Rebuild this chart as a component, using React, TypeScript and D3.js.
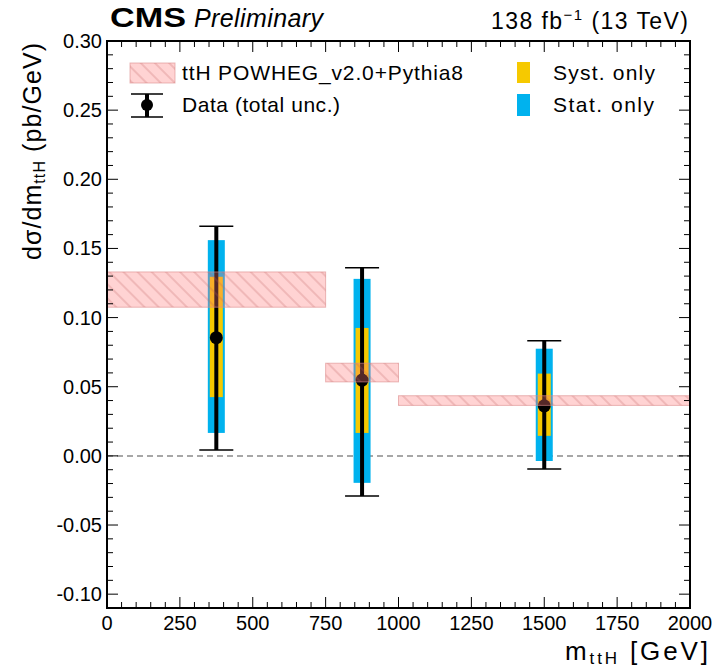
import * as d3 from 'd3';

const binEdges = [[0, 750], [750, 1000], [1000, 2000]];
const predLow = [0.1075, 0.0535, 0.0365];
const predHigh = [0.133, 0.067, 0.0435];
const centers = [375, 875, 1500];
const values = [0.0855, 0.0548, 0.0362];
const totUp = [0.166, 0.136, 0.0832];
const totDown = [0.0043, -0.029, -0.0095];
const statUp = [0.156, 0.128, 0.0775];
const statDown = [0.0166, -0.0195, -0.0037];
const systUp = [0.1295, 0.0925, 0.0595];
const systDown = [0.0425, 0.0166, 0.0145];
const yTicks = [-0.1, -0.05, 0, 0.05, 0.1, 0.15, 0.2, 0.25, 0.3];
const xTicks = [0, 250, 500, 750, 1000, 1250, 1500, 1750, 2000];

const W = 726;
const H = 669;
const L = 107;
const R = 690;
const T = 41;
const B = 608;
const FONT = '"Liberation Sans", Arial, Helvetica, sans-serif';
const BLUE = '#00b2ee';
const YELLOW = '#f6c900';
const BAND = 'rgba(255,120,120,0.33)';
const BAND_EDGE = 'rgba(220,140,140,0.6)';

const App = () => {
  const x = d3.scaleLinear().domain([0, 2000]).range([L, R]);
  const y = d3.scaleLinear().domain([-0.11, 0.3]).range([B, T]);

  const xMinor = d3.range(0, 2001, 50);
  const yMinor = d3.range(-0.11, 0.3001, 0.01).map(v => Math.round(v * 100) / 100);

  return (
    <svg width={W} height={H} style={{ position: 'absolute', left: 0, top: 0, background: '#fff' }}>
      <defs>
        <pattern id="hatch" patternUnits="userSpaceOnUse" width={10} height={10} patternTransform="rotate(45)">
          <line x1={0} y1={5} x2={10} y2={5} stroke="rgba(190,90,90,0.45)" strokeWidth={1} />
        </pattern>
        <clipPath id="plot">
          <rect x={L} y={T} width={R - L} height={B - T} />
        </clipPath>
      </defs>
      <rect x={0} y={0} width={W} height={H} fill="#fff" />

      {/* zero line */}
      <line x1={L} x2={R} y1={y(0)} y2={y(0)} stroke="#8a8a8a" strokeWidth={1.5} strokeDasharray="6,4" />

      <g clipPath="url(#plot)">
        {centers.map((c, i) => (
          <g key={'bars' + i}>
            <rect x={x(c) - 8.5} width={17} y={y(statUp[i])} height={y(statDown[i]) - y(statUp[i])} fill={BLUE} />
            <rect x={x(c) - 6.5} width={13} y={y(systUp[i])} height={y(systDown[i]) - y(systUp[i])} fill={YELLOW} />
            <line x1={x(c)} x2={x(c)} y1={y(totUp[i])} y2={y(totDown[i])} stroke="#000" strokeWidth={4} />
            <line x1={x(c) - 17} x2={x(c) + 17} y1={y(totUp[i])} y2={y(totUp[i])} stroke="#000" strokeWidth={1.5} />
            <line x1={x(c) - 17} x2={x(c) + 17} y1={y(totDown[i])} y2={y(totDown[i])} stroke="#000" strokeWidth={1.5} />
            <circle cx={x(c)} cy={y(values[i])} r={6.5} fill="#000" />
          </g>
        ))}
        {binEdges.map((e, i) => (
          <g key={'pred' + i}>
            <rect x={x(e[0])} width={x(e[1]) - x(e[0])} y={y(predHigh[i])} height={y(predLow[i]) - y(predHigh[i])}
              fill={BAND} stroke={BAND_EDGE} strokeWidth={1} />
            <rect x={x(e[0])} width={x(e[1]) - x(e[0])} y={y(predHigh[i])} height={y(predLow[i]) - y(predHigh[i])}
              fill="url(#hatch)" />
          </g>
        ))}
      </g>

      {/* ticks */}
      {xMinor.map(v => {
        const major = v % 250 === 0;
        const len = major ? 11 : 6;
        return (
          <g key={'xt' + v} stroke="#000" strokeWidth={1}>
            <line x1={x(v)} x2={x(v)} y1={B} y2={B - len} />
            <line x1={x(v)} x2={x(v)} y1={T} y2={T + len} />
          </g>
        );
      })}
      {yMinor.map(v => {
        const major = Math.abs(Math.round(v * 100) % 5) === 0;
        const len = major ? 11 : 6;
        return (
          <g key={'yt' + v} stroke="#000" strokeWidth={1}>
            <line x1={L} x2={L + len} y1={y(v)} y2={y(v)} />
            <line x1={R} x2={R - len} y1={y(v)} y2={y(v)} />
          </g>
        );
      })}
      <rect x={L} y={T} width={R - L} height={B - T} fill="none" stroke="#000" strokeWidth={2} />

      {/* tick labels */}
      {xTicks.map(v => (
        <text key={'xl' + v} x={x(v)} y={B + 22} textAnchor="middle" fontFamily={FONT} fontSize={20}>{v}</text>
      ))}
      {yTicks.map(v => (
        <text key={'yl' + v} x={L - 5} y={y(v) + 7} textAnchor="end" fontFamily={FONT} fontSize={20}>{v.toFixed(2)}</text>
      ))}

      {/* axis titles */}
      <text x={565} y={660} fontFamily={FONT} fontSize={26} textLength={143} lengthAdjust="spacing">
        m<tspan fontSize={17} dy={4}>ttH</tspan><tspan dy={-4}> [GeV]</tspan>
      </text>
      <text transform={`translate(41, 260) rotate(-90)`} fontFamily={FONT} fontSize={25} textLength={217} lengthAdjust="spacing">
        dσ/dm<tspan fontSize={16} dy={4}>ttH</tspan><tspan dy={-4}> (pb/GeV)</tspan>
      </text>

      {/* header */}
      <text x={110} y={27} fontFamily={FONT} fontSize={28} fontWeight="bold" textLength={76} lengthAdjust="spacingAndGlyphs">CMS</text>
      <text x={194} y={27} fontFamily={FONT} fontSize={25} fontStyle="italic" textLength={129} lengthAdjust="spacing">Preliminary</text>
      <text x={491} y={29} fontFamily={FONT} fontSize={23} textLength={197} lengthAdjust="spacing">
        138 fb<tspan fontSize={15} dy={-9}>−1</tspan><tspan dy={9}> (13 TeV)</tspan>
      </text>

      {/* legend */}
      <rect x={130} y={63} width={45} height={20} fill={BAND} stroke={BAND_EDGE} />
      <rect x={130} y={63} width={45} height={20} fill="url(#hatch)" />
      <text x={182} y={80} fontFamily={FONT} fontSize={21} textLength={281} lengthAdjust="spacing">ttH POWHEG_v2.0+Pythia8</text>
      <line x1={147} x2={147} y1={94} y2={117} stroke="#000" strokeWidth={4} />
      <line x1={131} x2={163} y1={94} y2={94} stroke="#000" strokeWidth={1.5} />
      <line x1={131} x2={163} y1={117} y2={117} stroke="#000" strokeWidth={1.5} />
      <circle cx={147} cy={105} r={6} fill="#000" />
      <text x={182} y={112} fontFamily={FONT} fontSize={21} textLength={158} lengthAdjust="spacing">Data (total unc.)</text>
      <rect x={517} y={62} width={13} height={21} fill={YELLOW} />
      <text x={553} y={80} fontFamily={FONT} fontSize={21} textLength={102} lengthAdjust="spacing">Syst. only</text>
      <rect x={517} y={94} width={13} height={22} fill={BLUE} />
      <text x={553} y={112} fontFamily={FONT} fontSize={21} textLength={101} lengthAdjust="spacing">Stat. only</text>
    </svg>
  );
};

export default App;
